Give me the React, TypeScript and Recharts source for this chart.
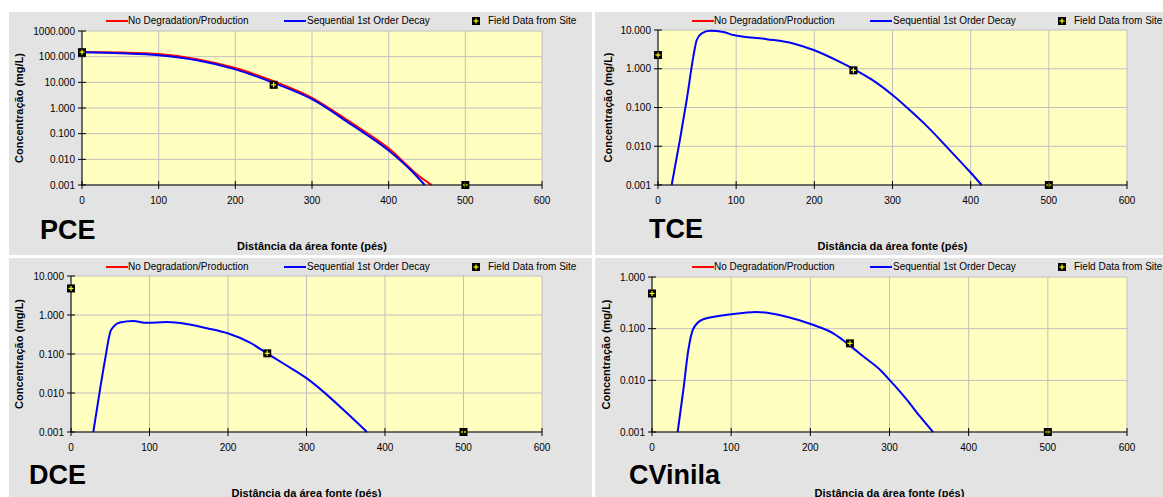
import React from "react";
import { ComposedChart, Line, Scatter, XAxis, YAxis, CartesianGrid } from "recharts";

type Pt = { x: number; y: number };

const DIST_TICKS = [0, 100, 200, 300, 400, 500, 600];
const PCE_TICKS = [0.001, 0.01, 0.1, 1, 10, 100, 1000];
const TCE_TICKS = [0.001, 0.01, 0.1, 1, 10];
const DCE_TICKS = [0.001, 0.01, 0.1, 1, 10];
const CV_TICKS = [0.001, 0.01, 0.1, 1];

const LEGEND_NO_DEG = "No Degradation/Production";
const LEGEND_SEQ = "Sequential 1st Order Decay";
const LEGEND_FIELD = "Field Data from Site";
const Y_TITLE = "Concentração (mg/L)";
const X_TITLE = "Distância da área fonte (pés)";

// PCE
const PCE_NO_DEG: Pt[] = [
  { x: 0, y: 152 }, { x: 50, y: 145 }, { x: 100, y: 126 }, { x: 150, y: 80 },
  { x: 200, y: 36 }, { x: 250, y: 11 }, { x: 300, y: 2.5 }, { x: 350, y: 0.28 },
  { x: 400, y: 0.027 }, { x: 440, y: 0.0022 }, { x: 456, y: 0.001 },
];
const PCE_SEQ: Pt[] = [
  { x: 0, y: 148 }, { x: 50, y: 136 }, { x: 100, y: 114 }, { x: 150, y: 72 },
  { x: 200, y: 32 }, { x: 250, y: 9.5 }, { x: 300, y: 2.2 }, { x: 350, y: 0.24 },
  { x: 400, y: 0.022 }, { x: 430, y: 0.0035 }, { x: 447, y: 0.001 },
];
const PCE_FIELD: Pt[] = [{ x: 0, y: 150 }, { x: 250, y: 8 }, { x: 500, y: 0.001 }];

// TCE
const TCE_NO_DEG: Pt[] = [];
const TCE_SEQ: Pt[] = [
  { x: 17.5, y: 0.001 }, { x: 28, y: 0.0145 }, { x: 36.7, y: 0.156 }, { x: 45.2, y: 2.05 },
  { x: 49.5, y: 5.5 }, { x: 55.9, y: 8.2 }, { x: 66.5, y: 9.6 }, { x: 83.6, y: 8.9 },
  { x: 96.4, y: 7.4 }, { x: 139, y: 5.8 }, { x: 173, y: 4.5 }, { x: 200, y: 3.0 },
  { x: 232, y: 1.52 }, { x: 254, y: 0.89 }, { x: 275, y: 0.5 }, { x: 300, y: 0.21 },
  { x: 322, y: 0.086 }, { x: 344, y: 0.033 }, { x: 369, y: 0.0098 }, { x: 386, y: 0.0042 },
  { x: 399, y: 0.0022 }, { x: 414, y: 0.001 },
];
const TCE_FIELD: Pt[] = [{ x: 0, y: 2.26 }, { x: 250, y: 0.91 }, { x: 500, y: 0.001 }];

// DCE
const DCE_NO_DEG: Pt[] = [];
const DCE_SEQ: Pt[] = [
  { x: 28.4, y: 0.001 }, { x: 36.9, y: 0.012 }, { x: 43.3, y: 0.07 }, { x: 51, y: 0.41 },
  { x: 62.4, y: 0.64 }, { x: 79.4, y: 0.7 }, { x: 96.4, y: 0.63 }, { x: 122, y: 0.66 },
  { x: 147, y: 0.59 }, { x: 173, y: 0.46 }, { x: 199.6, y: 0.34 }, { x: 228, y: 0.195 },
  { x: 250, y: 0.103 }, { x: 270, y: 0.058 }, { x: 300, y: 0.024 }, { x: 321, y: 0.011 },
  { x: 347, y: 0.0037 }, { x: 377, y: 0.001 },
];
const DCE_FIELD: Pt[] = [{ x: 0, y: 4.8 }, { x: 250, y: 0.104 }, { x: 500, y: 0.001 }];

// Cloreto de vinila
const CV_NO_DEG: Pt[] = [];
const CV_SEQ: Pt[] = [
  { x: 32.4, y: 0.001 }, { x: 39.6, y: 0.0065 }, { x: 45.9, y: 0.039 }, { x: 52.2, y: 0.1 },
  { x: 64.8, y: 0.152 }, { x: 100.6, y: 0.19 }, { x: 132, y: 0.21 }, { x: 170, y: 0.17 },
  { x: 200.4, y: 0.123 }, { x: 229, y: 0.081 }, { x: 254, y: 0.042 }, { x: 267, y: 0.029 },
  { x: 288, y: 0.016 }, { x: 300, y: 0.0102 }, { x: 322, y: 0.0042 }, { x: 338.5, y: 0.002 },
  { x: 355, y: 0.001 },
];
const CV_FIELD: Pt[] = [{ x: 0, y: 0.48 }, { x: 250, y: 0.052 }, { x: 500, y: 0.001 }];

const FONT = "'Liberation Sans', Arial, sans-serif";
const PANEL_BG = "#e3e3e3";
const PLOT_BG = "#ffffc0";
const GRID = "#c0c0c0";

function YTick(props: any) {
  const { x, y, payload } = props;
  return (
    <g>
      <line x1={x - 4} x2={x + 4} y1={y} y2={y} stroke="#000" />
      <text x={x - 7} y={y} dy={3.5} textAnchor="end" fontSize={10} fill="#000" fontFamily={FONT}>
        {Number(payload.value).toFixed(3)}
      </text>
    </g>
  );
}

function XTick(props: any) {
  const { x, y, payload } = props;
  return (
    <g>
      <line x1={x} x2={x} y1={y - 4} y2={y + 4} stroke="#000" />
      <text x={x} y={y + 18.5} textAnchor="middle" fontSize={10} fill="#000" fontFamily={FONT}>
        {payload.value}
      </text>
    </g>
  );
}

function FieldMarker(props: any) {
  const { cx, cy } = props;
  if (cx == null || cy == null) return <g />;
  return (
    <g>
      <rect x={cx - 4} y={cy - 4} width={8} height={8} fill="#000" />
      <line x1={cx - 2.5} x2={cx + 2.5} y1={cy} y2={cy} stroke="#ffff00" strokeWidth={1.2} />
      <line x1={cx} x2={cx} y1={cy - 2.5} y2={cy + 2.5} stroke="#ffff00" strokeWidth={1.2} />
    </g>
  );
}

function Legend() {
  const txt: React.CSSProperties = { position: "absolute", top: 3, fontSize: 10, lineHeight: "12px", whiteSpace: "nowrap" };
  return (
    <>
      <div style={{ position: "absolute", left: 97, top: 8, width: 22, height: 2, background: "#ff0000" }} />
      <span style={{ ...txt, left: 119 }}>{LEGEND_NO_DEG}</span>
      <div style={{ position: "absolute", left: 275, top: 8, width: 22, height: 2, background: "#0000ff" }} />
      <span style={{ ...txt, left: 298 }}>{LEGEND_SEQ}</span>
      <svg style={{ position: "absolute", left: 462, top: 4 }} width={10} height={10}>
        <FieldMarker cx={5} cy={5} />
      </svg>
      <span style={{ ...txt, left: 479 }}>{LEGEND_FIELD}</span>
    </>
  );
}

interface PanelProps {
  name: string;
  left: number;
  top: number;
  width: number;
  height: number;
  plotLeft: number;
  plotTop: number;
  plotRight: number;
  plotBottom: number;
  yLabelX: number;
  nameX: number;
  nameBaseline: number;
  yTicks: number[];
  noDeg: Pt[];
  seq: Pt[];
  field: Pt[];
}

function Panel(p: PanelProps) {
  const yDomain = [p.yTicks[0], p.yTicks[p.yTicks.length - 1]];
  return (
    <div style={{ position: "absolute", left: p.left, top: p.top, width: p.width, height: p.height, background: PANEL_BG, overflow: "hidden" }}>
      <Legend />
      <ComposedChart
        width={p.width}
        height={p.height}
        margin={{ top: p.plotTop, right: p.width - p.plotRight, bottom: 0, left: 0 }}
      >
        <CartesianGrid stroke={GRID} fill={PLOT_BG} fillOpacity={1} />
        <XAxis
          dataKey="x"
          type="number"
          domain={[0, 600]}
          ticks={DIST_TICKS}
          interval={0}
          height={p.height - p.plotBottom}
          tickSize={0}
          tickMargin={0}
          tickLine={false}
          axisLine={{ stroke: "#000" }}
          tick={<XTick />}
          label={{
            value: X_TITLE,
            content: (lp: any) => {
              const vb = lp.viewBox;
              return (
                <text x={vb.x + vb.width / 2} y={vb.y + 65} textAnchor="middle" fontSize={11} fontWeight="bold" fill="#000" fontFamily={FONT}>
                  {X_TITLE}
                </text>
              );
            },
          }}
        />
        <YAxis
          dataKey="y"
          type="number"
          scale="log"
          domain={yDomain}
          ticks={p.yTicks}
          interval={0}
          width={p.plotLeft}
          tickSize={0}
          tickMargin={0}
          tickLine={false}
          axisLine={{ stroke: "#000" }}
          tick={<YTick />}
          label={{
            value: Y_TITLE,
            content: (lp: any) => {
              const vb = lp.viewBox;
              const cy = vb.y + vb.height / 2;
              return (
                <text
                  x={p.yLabelX}
                  y={cy}
                  dy={4}
                  transform={`rotate(-90, ${p.yLabelX}, ${cy})`}
                  textAnchor="middle"
                  fontSize={11}
                  fontWeight="bold"
                  fill="#000"
                  fontFamily={FONT}
                >
                  {Y_TITLE}
                </text>
              );
            },
          }}
        />
        <Line data={p.noDeg} dataKey="y" type="monotone" stroke="#ff0000" strokeWidth={2} dot={false} activeDot={false} isAnimationActive={false} />
        <Line data={p.seq} dataKey="y" type="monotone" stroke="#0000ff" strokeWidth={2} dot={false} activeDot={false} isAnimationActive={false} />
        <Scatter data={p.field} dataKey="y" shape={<FieldMarker />} isAnimationActive={false} />
      </ComposedChart>
      <div
        style={{
          position: "absolute",
          left: p.nameX,
          top: p.nameBaseline - 23,
          fontSize: 27,
          lineHeight: "27px",
          fontWeight: "bold",
          whiteSpace: "nowrap",
        }}
      >
        {p.name}
      </div>
    </div>
  );
}

export default function App() {
  return (
    <div style={{ position: "absolute", left: 0, top: 0, width: 1163, height: 497, background: "#fff", fontFamily: FONT, color: "#000", overflow: "hidden" }}>
      <Panel name="PCE" left={9} top={12} width={583} height={243} plotLeft={73} plotTop={19} plotRight={533} plotBottom={173}
        yLabelX={10} nameX={31} nameBaseline={228} yTicks={PCE_TICKS} noDeg={PCE_NO_DEG} seq={PCE_SEQ} field={PCE_FIELD} />
      <Panel name="TCE" left={595} top={12} width={568} height={243} plotLeft={63} plotTop={18} plotRight={532} plotBottom={173}
        yLabelX={13} nameX={54} nameBaseline={227} yTicks={TCE_TICKS} noDeg={TCE_NO_DEG} seq={TCE_SEQ} field={TCE_FIELD} />
      <Panel name="DCE" left={9} top={258} width={583} height={239} plotLeft={62} plotTop={18} plotRight={533} plotBottom={174}
        yLabelX={10} nameX={20} nameBaseline={227} yTicks={DCE_TICKS} noDeg={DCE_NO_DEG} seq={DCE_SEQ} field={DCE_FIELD} />
      <Panel name="CVinila" left={595} top={258} width={568} height={239} plotLeft={57} plotTop={19} plotRight={532} plotBottom={174}
        yLabelX={10.5} nameX={34} nameBaseline={227} yTicks={CV_TICKS} noDeg={CV_NO_DEG} seq={CV_SEQ} field={CV_FIELD} />
    </div>
  );
}
